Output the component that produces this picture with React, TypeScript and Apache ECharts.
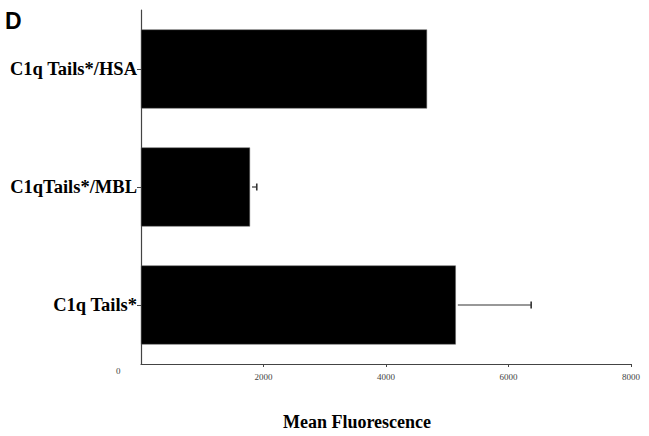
import React, { useEffect, useRef } from "react";
import * as echarts from "echarts";

const categories = ["C1q Tails*", "C1qTails*/MBL", "C1q Tails*/HSA"];
const meanValues = [5140, 1780, 4670];
const errValues = [1230, 110, 0];
const xTicks = [0, 2000, 4000, 6000, 8000];

export default function App() {
  const ref = useRef<HTMLDivElement>(null);
  useEffect(() => {
    if (!ref.current) return;
    const chart = echarts.init(ref.current, null, { renderer: "svg" });
    const errData = categories.map((c, i) => [meanValues[i], meanValues[i] + errValues[i], i, errValues[i]]);
    chart.setOption({
      animation: false,
      backgroundColor: "#fff",
      grid: { left: 141, right: 18, top: 10, bottom: 68, containLabel: false },
      xAxis: {
        type: "value",
        min: xTicks[0],
        max: xTicks[xTicks.length - 1],
        interval: 2000,
        splitLine: { show: false },
        axisLine: { show: true, lineStyle: { color: "#444", width: 1.2 } },
        axisTick: { show: true, length: 3, lineStyle: { color: "#444" } },
        axisLabel: {
          showMinLabel: false,
          formatter: (v: number) => String(v),
          fontFamily: "Liberation Serif",
          fontSize: 9,
          color: "#444",
          margin: 8,
        },
        name: "Mean Fluorescence",
        nameLocation: "middle",
        nameGap: 49,
        nameTextStyle: {
          fontFamily: "Liberation Serif",
          fontWeight: "bold",
          fontSize: 18,
          color: "#000",
          padding: [0, 58, 0, 0],
        },
      },
      yAxis: {
        type: "category",
        data: categories,
        axisLine: { show: true, lineStyle: { color: "#444", width: 1.2 } },
        axisTick: { show: true, alignWithLabel: true, length: 4, lineStyle: { color: "#444" } },
        axisLabel: {
          fontFamily: "Liberation Serif",
          fontWeight: "bold",
          fontSize: 18.5,
          color: "#000",
          margin: 4,
        },
        splitLine: { show: false },
      },
      graphic: [
        {
          type: "text",
          left: 5,
          top: 9,
          style: { text: "D", font: "bold 23px 'Liberation Sans'", fill: "#000" },
        },
        {
          type: "text",
          left: 116,
          top: 366,
          style: { text: "0", font: "9px 'Liberation Serif'", fill: "#444" },
        },
      ],
      series: [
        {
          type: "bar",
          data: meanValues,
          barWidth: "67%",
          itemStyle: { color: "#000", borderColor: "#666", borderWidth: 0.5 },
        },
        {
          type: "custom",
          data: errData,
          encode: { x: [0, 1], y: 2 },
          z: 5,
          renderItem: (params: any, api: any) => {
            if (api.value(3) <= 0) return null;
            const p1 = api.coord([api.value(0), api.value(2)]);
            const p2 = api.coord([api.value(1), api.value(2)]);
            const style = { stroke: "#333", lineWidth: 1.2 };
            return {
              type: "group",
              children: [
                { type: "line", shape: { x1: p1[0] + 2, y1: p1[1], x2: p2[0], y2: p2[1] }, style },
                { type: "line", shape: { x1: p2[0], y1: p2[1] - 3.5, x2: p2[0], y2: p2[1] + 3.5 }, style: { stroke: "#333", lineWidth: 1.6 } },
              ],
            };
          },
        },
      ],
    });
    return () => chart.dispose();
  }, []);
  return <div ref={ref} style={{ position: "absolute", left: 0, top: 0, width: 649, height: 436 }} />;
}
